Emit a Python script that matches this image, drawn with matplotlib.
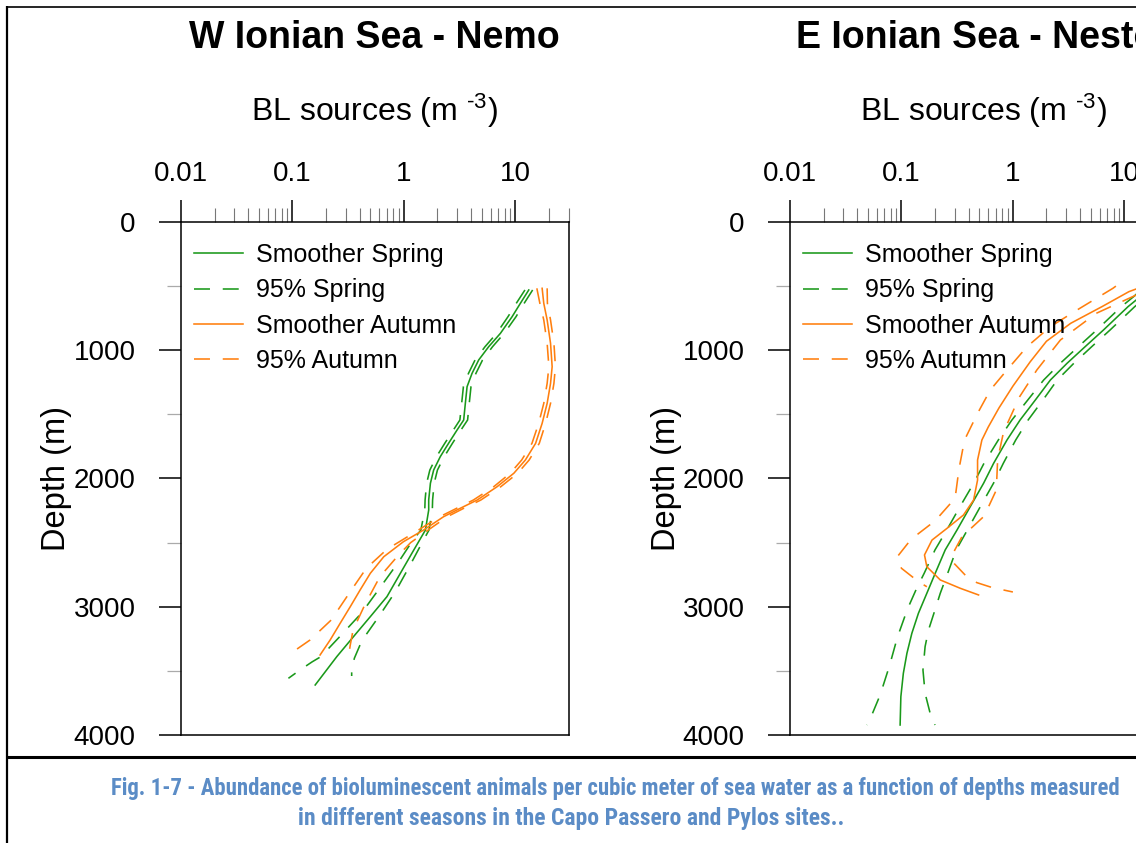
import matplotlib
matplotlib.use('Agg')
import matplotlib.pyplot as plt
from matplotlib import font_manager
from matplotlib.ticker import LogLocator, NullFormatter
from matplotlib.lines import Line2D

plt.rcParams['font.family'] = ['Liberation Sans', 'DejaVu Sans']
plt.rcParams['mathtext.fontset'] = 'custom'
plt.rcParams['mathtext.rm'] = 'Liberation Sans'
plt.rcParams['mathtext.it'] = 'Liberation Sans:italic'

# ---------------- data ----------------
titles = ["W Ionian Sea - Nemo", "E Ionian Sea - Nestor"]
legend_labels = ["Smoother Spring", "95% Spring", "Smoother Autumn", "95% Autumn"]
x_ticks = [0.01, 0.1, 1, 10]
x_tick_labels = ["0.01", "0.1", "1", "10"]
y_ticks = [0, 1000, 2000, 3000, 4000]
y_minor_ticks = [500, 1500, 2500, 3500]
caption_lines = [
    "Fig. 1-7 - Abundance of bioluminescent animals per cubic meter of sea water as a function of depths measured",
    "in different seasons in the Capo Passero and Pylos sites..",
]

# W Ionian Sea - Nemo
nemo_spring_depth = [530, 634, 738, 868, 972, 1076, 1180, 1284, 1414, 1544, 1622, 1725, 1830, 1934, 2037,
                     2167, 2246, 2402, 2583, 2739, 2921, 3077, 3233, 3389, 3610]
nemo_spring = [13.2, 11.1, 9.36, 7.35, 5.77, 4.69, 4.09, 3.69, 3.56, 3.44, 3.0, 2.52, 2.12, 1.85, 1.73,
               1.67, 1.67, 1.56, 1.18, 0.93, 0.705, 0.50, 0.353, 0.25, 0.16]
nemo_spring_lo_depth = [530, 634, 738, 868, 972, 1076, 1180, 1284, 1414, 1544, 1622, 1725, 1830, 1934, 2037,
                        2167, 2246, 2402, 2493, 2648, 2869, 3046, 3228, 3389, 3430, 3493, 3558]
nemo_spring_lo = [12.2, 10.2, 8.6, 6.8, 5.35, 4.35, 3.8, 3.42, 3.3, 3.18, 2.78, 2.33, 1.96, 1.71, 1.6,
                  1.55, 1.54, 1.42, 1.18, 0.9, 0.59, 0.42, 0.269, 0.18, 0.15, 0.117, 0.092]
nemo_spring_hi_depth = [530, 634, 738, 868, 972, 1076, 1180, 1284, 1414, 1544, 1622, 1725, 1830, 1934, 2037,
                        2167, 2246, 2402, 2480, 2674, 2882, 3082, 3264, 3400, 3480, 3540]
nemo_spring_hi = [14.3, 12.0, 10.15, 7.95, 6.25, 5.08, 4.43, 4.0, 3.86, 3.73, 3.25, 2.73, 2.3, 2.0, 1.87,
                  1.81, 1.8, 1.68, 1.5, 1.14, 0.84, 0.59, 0.42, 0.36, 0.34, 0.34]

nemo_autumn_depth = [517, 634, 764, 946, 1128, 1258, 1414, 1570, 1726, 1856, 1959, 2064, 2168, 2232, 2298,
                     2402, 2493, 2610, 2739, 2869, 3000, 3129, 3259, 3376]
nemo_autumn = [17.4, 18.0, 19.3, 20.7, 21.4, 20.7, 19.3, 17.4, 15.2, 12.3, 9.7, 6.86, 4.54, 3.21, 2.27,
               1.5, 0.99, 0.66, 0.5, 0.405, 0.33, 0.268, 0.218, 0.177]
nemo_autumn_lo_depth = [517, 634, 764, 946, 1128, 1258, 1414, 1570, 1726, 1856, 1959, 2064, 2168, 2232, 2298,
                        2420, 2552, 2700, 2900, 3103, 3259, 3376]
nemo_autumn_lo = [15.6, 16.6, 18.0, 19.3, 20.0, 19.3, 18.0, 16.2, 14.1, 11.4, 9.0, 6.4, 4.2, 2.98, 2.1,
                  1.25, 0.705, 0.46, 0.32, 0.223, 0.144, 0.092]
nemo_autumn_hi_depth = [517, 634, 764, 946, 1128, 1258, 1414, 1570, 1726, 1856, 1959, 2064, 2168, 2232, 2298,
                        2402, 2500, 2597, 2765, 2978, 3181, 3300, 3376]
nemo_autumn_hi = [19.3, 19.4, 20.7, 22.2, 22.9, 22.2, 20.7, 18.7, 16.4, 13.3, 10.5, 7.4, 4.9, 3.45, 2.45,
                  1.65, 1.15, 0.895, 0.61, 0.45, 0.35, 0.33, 0.32]

# E Ionian Sea - Nestor
nestor_spring_depth = [500, 580, 660, 842, 972, 1102, 1232, 1388, 1544, 1700, 1882, 2037, 2220, 2402, 2557,
                       2739, 2895, 3051, 3207, 3363, 3519, 3701, 3922]
nestor_spring = [17.5, 14.0, 10.8, 6.5, 4.45, 3.06, 2.17, 1.59, 1.16, 0.885, 0.671, 0.546, 0.414, 0.315, 0.247,
                 0.201, 0.169, 0.142, 0.124, 0.112, 0.104, 0.0988, 0.0973]
nestor_spring_lo_depth = [500, 580, 660, 842, 972, 1102, 1232, 1388, 1544, 1700, 1882, 2037, 2220, 2402, 2557,
                          2739, 2856, 3020, 3238, 3462, 3688, 3831, 3922]
nestor_spring_lo = [15.3, 12.2, 9.4, 5.65, 3.87, 2.66, 1.89, 1.36, 0.98, 0.74, 0.55, 0.445, 0.335, 0.255, 0.2,
                    0.16, 0.137, 0.113, 0.092, 0.078, 0.0644, 0.055, 0.0489]
nestor_spring_hi_depth = [500, 580, 660, 842, 972, 1102, 1232, 1388, 1544, 1700, 1882, 2037, 2220, 2402, 2557,
                          2739, 2895, 3025, 3181, 3311, 3493, 3675, 3831, 3922]
nestor_spring_hi = [20.1, 16.1, 12.4, 7.45, 5.1, 3.52, 2.5, 1.86, 1.37, 1.06, 0.82, 0.67, 0.51, 0.39, 0.31,
                    0.26, 0.223, 0.2, 0.175, 0.163, 0.156, 0.163, 0.181, 0.2]

nestor_autumn_depth = [500, 543, 660, 790, 930, 1090, 1280, 1450, 1600, 1700, 1856, 2012, 2168, 2285, 2389,
                       2480, 2596, 2688, 2791, 2856, 2908]
nestor_autumn = [15.0, 11.0, 6.3, 3.3, 2.0, 1.43, 1.0, 0.75, 0.6, 0.527, 0.482, 0.482, 0.444, 0.36, 0.256,
                 0.188, 0.161, 0.169, 0.223, 0.337, 0.492]
nestor_autumn_lo_depth = [500, 517, 686, 816, 972, 1154, 1310, 1492, 1700, 1928, 2154, 2329, 2474, 2609, 2700,
                          2804, 2844]
nestor_autumn_lo = [8.4, 7.9, 3.77, 2.17, 1.34, 0.885, 0.627, 0.482, 0.368, 0.328, 0.303, 0.201, 0.122, 0.092,
                    0.1, 0.142, 0.169]
nestor_autumn_hi_depth = [500, 560, 712, 920, 1154, 1362, 1635, 1850, 2090, 2293, 2454, 2560, 2657, 2760, 2812,
                          2850, 2885]
nestor_autumn_hi = [24.0, 13.5, 5.6, 2.67, 1.64, 1.15, 0.826, 0.73, 0.71, 0.553, 0.349, 0.3, 0.293, 0.38, 0.475,
                    0.65, 1.0]

# ---------------- style ----------------
GREEN = '#1a991a'
ORANGE = '#ff7f0e'
LW = 1.15
DASH = (0, (10.0, 8.0))
CAPTION_COLOR = '#5b8cc6'

installed = {f.name for f in font_manager.fontManager.ttflist}
caption_family = [f for f in ['Liberation Sans Narrow', 'Roboto Condensed', 'Open Sans Condensed', 'Lato']
                  if f in installed] + ['DejaVu Sans']

W, H = 1136, 843
fig = plt.figure(figsize=(W / 100, H / 100), dpi=100)


def rect(x0, x1, ytop, ybot):
    return [x0 / W, 1 - ybot / H, (x1 - x0) / W, (ybot - ytop) / H]


ax1 = fig.add_axes(rect(181, 568.5, 222, 735))
ax2 = fig.add_axes(rect(790, 1177.5, 222, 735))


def draw_panel(ax, title, sp, sp_d, sp_lo, sp_lo_d, sp_hi, sp_hi_d,
               au, au_d, au_lo, au_lo_d, au_hi, au_hi_d):
    ax.plot(sp, sp_d, color=GREEN, lw=LW, label=legend_labels[0])
    ax.plot(sp_lo, sp_lo_d, color=GREEN, lw=LW, ls=DASH, label=legend_labels[1])
    ax.plot(sp_hi, sp_hi_d, color=GREEN, lw=LW, ls=DASH, label='_nolegend_')
    ax.plot(au, au_d, color=ORANGE, lw=LW, label=legend_labels[2])
    ax.plot(au_lo, au_lo_d, color=ORANGE, lw=LW, ls=DASH, label=legend_labels[3])
    ax.plot(au_hi, au_hi_d, color=ORANGE, lw=LW, ls=DASH, label='_nolegend_')

    ax.set_xscale('log')
    ax.set_xlim(0.01, 30)
    ax.set_ylim(4000, 0)

    ax.xaxis.tick_top()
    ax.xaxis.set_label_position('top')
    ax.set_xticks(x_ticks)
    ax.set_xticklabels(x_tick_labels)
    ax.xaxis.set_minor_locator(LogLocator(base=10, subs=range(2, 10)))
    ax.xaxis.set_minor_formatter(NullFormatter())
    ax.set_yticks(y_ticks)
    ax.set_yticklabels([str(v) for v in y_ticks])
    ax.set_yticks(y_minor_ticks, minor=True)

    ax.tick_params(axis='x', which='major', direction='out', length=15.5, width=1.1,
                   pad=10, labelsize=20, colors='black')
    ax.tick_params(axis='x', which='minor', direction='out', length=10, width=0.8,
                   color='#777777')
    ax.tick_params(axis='y', which='major', direction='out', length=15.5, width=1.1,
                   pad=17, labelsize=20)
    ax.tick_params(axis='y', which='minor', direction='out', length=10, width=0.9,
                   color='#aaaaaa')
    for s in ax.spines.values():
        s.set_linewidth(1.1)
        s.set_color('black')

    ax.set_xlabel(r'BL sources (m $^{\text{-3}}$)', fontsize=23)
    ax.xaxis.set_label_coords(0.5, 1 + (222 - 111) / 513)
    ax.xaxis.label.set_va('center')
    ax.set_ylabel('Depth (m)', fontsize=23.5)
    ax.yaxis.set_label_coords(-(181 - 57) / 387.5, 0.5)
    ax.yaxis.label.set_va('center')

    ax.text(0.5, 1 + (222 - 38) / 513, title, transform=ax.transAxes, ha='center',
            va='center', fontsize=27, fontweight='bold')

    ax.legend(loc='upper left', bbox_to_anchor=(0.033, 0.959), frameon=False, fontsize=18,
              handlelength=1.95, handletextpad=0.55, labelspacing=0.45, borderpad=0,
              borderaxespad=0)


draw_panel(ax1, titles[0],
           nemo_spring, nemo_spring_depth, nemo_spring_lo, nemo_spring_lo_depth,
           nemo_spring_hi, nemo_spring_hi_depth,
           nemo_autumn, nemo_autumn_depth, nemo_autumn_lo, nemo_autumn_lo_depth,
           nemo_autumn_hi, nemo_autumn_hi_depth)
draw_panel(ax2, titles[1],
           nestor_spring, nestor_spring_depth, nestor_spring_lo, nestor_spring_lo_depth,
           nestor_spring_hi, nestor_spring_hi_depth,
           nestor_autumn, nestor_autumn_depth, nestor_autumn_lo, nestor_autumn_lo_depth,
           nestor_autumn_hi, nestor_autumn_hi_depth)


# page frame lines
def fline(x0, y0, x1, y1, lw):
    fig.add_artist(Line2D([x0 / W, x1 / W], [1 - y0 / H, 1 - y1 / H], transform=fig.transFigure,
                          color='black', lw=lw, solid_capstyle='butt'))


fline(7, 6.5, 1136, 6.5, 1.2)
fline(7, 6, 7, 843, 1.6)
fline(7, 757, 1136, 757, 2.2)

# caption (fit width to the reference)
renderer = fig.canvas.get_renderer()
cap_specs = [(caption_lines[0], 615, 789, 1016), (caption_lines[1], 571, 818, 551)]
for txt, cx, cy, target_w in cap_specs:
    t = fig.text(cx / W, 1 - cy / H, txt, ha='center', va='center', fontsize=14,
                 fontweight='bold', color=CAPTION_COLOR, family=caption_family)
    w = t.get_window_extent(renderer).width
    t.set_fontsize(14 * target_w / w)

fig.savefig('out.png', dpi=100)
